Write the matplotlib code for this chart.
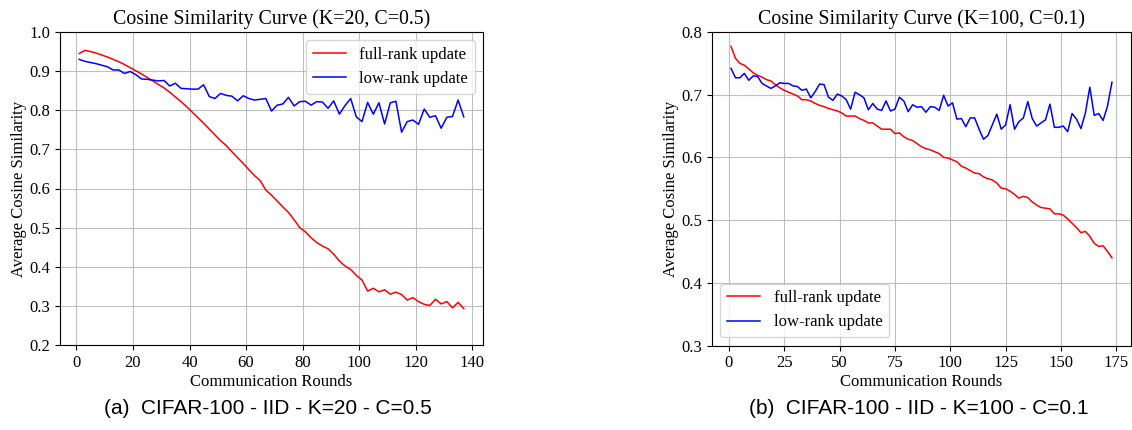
import numpy as np
import matplotlib
matplotlib.use("Agg")
import matplotlib.pyplot as plt

# ---- data ----
rounds_a = list(range(1, 138, 2))
full_a = [0.945, 0.953, 0.950, 0.946, 0.941, 0.936, 0.930, 0.924, 0.917, 0.909,
          0.901, 0.893, 0.884, 0.875, 0.866, 0.857, 0.846, 0.834, 0.822, 0.809,
          0.795, 0.781, 0.767, 0.752, 0.737, 0.722, 0.710, 0.694, 0.679, 0.664,
          0.648, 0.633, 0.620, 0.596, 0.583, 0.568, 0.553, 0.539, 0.520, 0.500,
          0.489, 0.474, 0.462, 0.453, 0.446, 0.432, 0.415, 0.402, 0.393, 0.378,
          0.366, 0.338, 0.345, 0.336, 0.341, 0.330, 0.335, 0.329, 0.315, 0.321,
          0.311, 0.304, 0.301, 0.317, 0.305, 0.311, 0.295, 0.309, 0.293]
low_a = [0.930, 0.925, 0.922, 0.919, 0.915, 0.911, 0.903, 0.903, 0.894, 0.899,
         0.891, 0.880, 0.879, 0.877, 0.875, 0.876, 0.862, 0.869, 0.856, 0.855,
         0.854, 0.854, 0.865, 0.835, 0.830, 0.843, 0.838, 0.836, 0.824, 0.837,
         0.830, 0.826, 0.828, 0.830, 0.798, 0.813, 0.816, 0.833, 0.811, 0.822,
         0.823, 0.813, 0.822, 0.821, 0.805, 0.824, 0.790, 0.812, 0.830, 0.783,
         0.771, 0.820, 0.790, 0.819, 0.765, 0.819, 0.823, 0.744, 0.771, 0.775,
         0.764, 0.803, 0.782, 0.786, 0.754, 0.782, 0.784, 0.826, 0.783]

rounds_b = list(range(1, 174, 2))
full_b = [0.777, 0.758, 0.750, 0.747, 0.741, 0.735, 0.731, 0.728, 0.724, 0.722,
          0.716, 0.711, 0.707, 0.704, 0.701, 0.698, 0.692, 0.692, 0.690, 0.686,
          0.683, 0.681, 0.678, 0.676, 0.674, 0.671, 0.666, 0.666, 0.666, 0.662,
          0.659, 0.655, 0.655, 0.650, 0.645, 0.645, 0.645, 0.638, 0.639, 0.633,
          0.629, 0.627, 0.622, 0.617, 0.614, 0.612, 0.609, 0.606, 0.600, 0.599,
          0.596, 0.593, 0.586, 0.583, 0.579, 0.575, 0.574, 0.569, 0.566, 0.564,
          0.559, 0.551, 0.550, 0.546, 0.541, 0.535, 0.538, 0.536, 0.529, 0.524,
          0.520, 0.519, 0.518, 0.510, 0.510, 0.508, 0.502, 0.495, 0.488, 0.480,
          0.482, 0.474, 0.463, 0.458, 0.459, 0.450, 0.440]
low_b = [0.742, 0.727, 0.727, 0.734, 0.723, 0.730, 0.729, 0.718, 0.714, 0.710,
         0.714, 0.719, 0.718, 0.718, 0.714, 0.713, 0.707, 0.709, 0.695, 0.705,
         0.717, 0.716, 0.696, 0.691, 0.701, 0.698, 0.692, 0.677, 0.704, 0.700,
         0.695, 0.676, 0.686, 0.677, 0.675, 0.690, 0.674, 0.677, 0.696, 0.690,
         0.673, 0.684, 0.680, 0.681, 0.672, 0.681, 0.680, 0.675, 0.699, 0.682,
         0.687, 0.661, 0.662, 0.649, 0.663, 0.663, 0.645, 0.629, 0.635, 0.652,
         0.669, 0.645, 0.652, 0.684, 0.645, 0.657, 0.663, 0.689, 0.662, 0.650,
         0.655, 0.660, 0.685, 0.648, 0.648, 0.650, 0.641, 0.670, 0.661, 0.646,
         0.671, 0.712, 0.667, 0.670, 0.659, 0.682, 0.720]

titles = ["Cosine Similarity Curve (K=20, C=0.5)", "Cosine Similarity Curve (K=100, C=0.1)"]
captions = ["(a)  CIFAR-100 - IID - K=20 - C=0.5", "(b)  CIFAR-100 - IID - K=100 - C=0.1"]
xlabel = "Communication Rounds"
ylabel = "Average Cosine Similarity"
labels = ["full-rank update", "low-rank update"]

plt.rcParams['font.family'] = ['Liberation Serif', 'DejaVu Serif']

W, H = 1132, 430
fig = plt.figure(figsize=(W / 100, H / 100), dpi=100)

axA = fig.add_axes([60 / W, (H - 345) / H, (483 - 60) / W, (345 - 32) / H])
axB = fig.add_axes([712 / W, (H - 345.5) / H, (1131 - 712) / W, (345.5 - 32) / H])

def style(ax, title):
    ax.set_title(title, fontsize=14.3, pad=5.5)
    ax.set_xlabel(xlabel, fontsize=12, labelpad=2)
    ax.set_ylabel(ylabel, fontsize=12, labelpad=2)
    ax.tick_params(labelsize=12, length=3.5, width=0.8, pad=3.5)
    ax.grid(True, color='#b0b0b0', linewidth=0.8, alpha=0.8)
    for s in ax.spines.values():
        s.set_linewidth(0.8)

axA.plot(rounds_a, full_a, color='red', linewidth=1.1, label=labels[0])
axA.plot(rounds_a, low_a, color='blue', linewidth=1.1, label=labels[1])
axA.set_ylim(0.2, 1.0)
axA.set_xticks([0, 20, 40, 60, 80, 100, 120, 140])
axA.set_yticks([0.2, 0.3, 0.4, 0.5, 0.6, 0.7, 0.8, 0.9, 1.0])
style(axA, titles[0])
axA.legend(loc='upper right', fontsize=12)

axB.plot(rounds_b, full_b, color='red', linewidth=1.1, label=labels[0])
axB.plot(rounds_b, low_b, color='blue', linewidth=1.1, label=labels[1])
axB.set_ylim(0.3, 0.8)
axB.set_xticks([0, 25, 50, 75, 100, 125, 150, 175])
axB.set_yticks([0.3, 0.4, 0.5, 0.6, 0.7, 0.8])
style(axB, titles[1])
axB.legend(loc='lower left', fontsize=12)

fig.text(268 / W, 1 - 408 / H, captions[0], ha='center', va='center',
         fontsize=15, family=['Liberation Sans', 'DejaVu Sans'])
fig.text(919 / W, 1 - 408 / H, captions[1], ha='center', va='center',
         fontsize=15, family=['Liberation Sans', 'DejaVu Sans'])

fig.savefig("out.png", dpi=100)
